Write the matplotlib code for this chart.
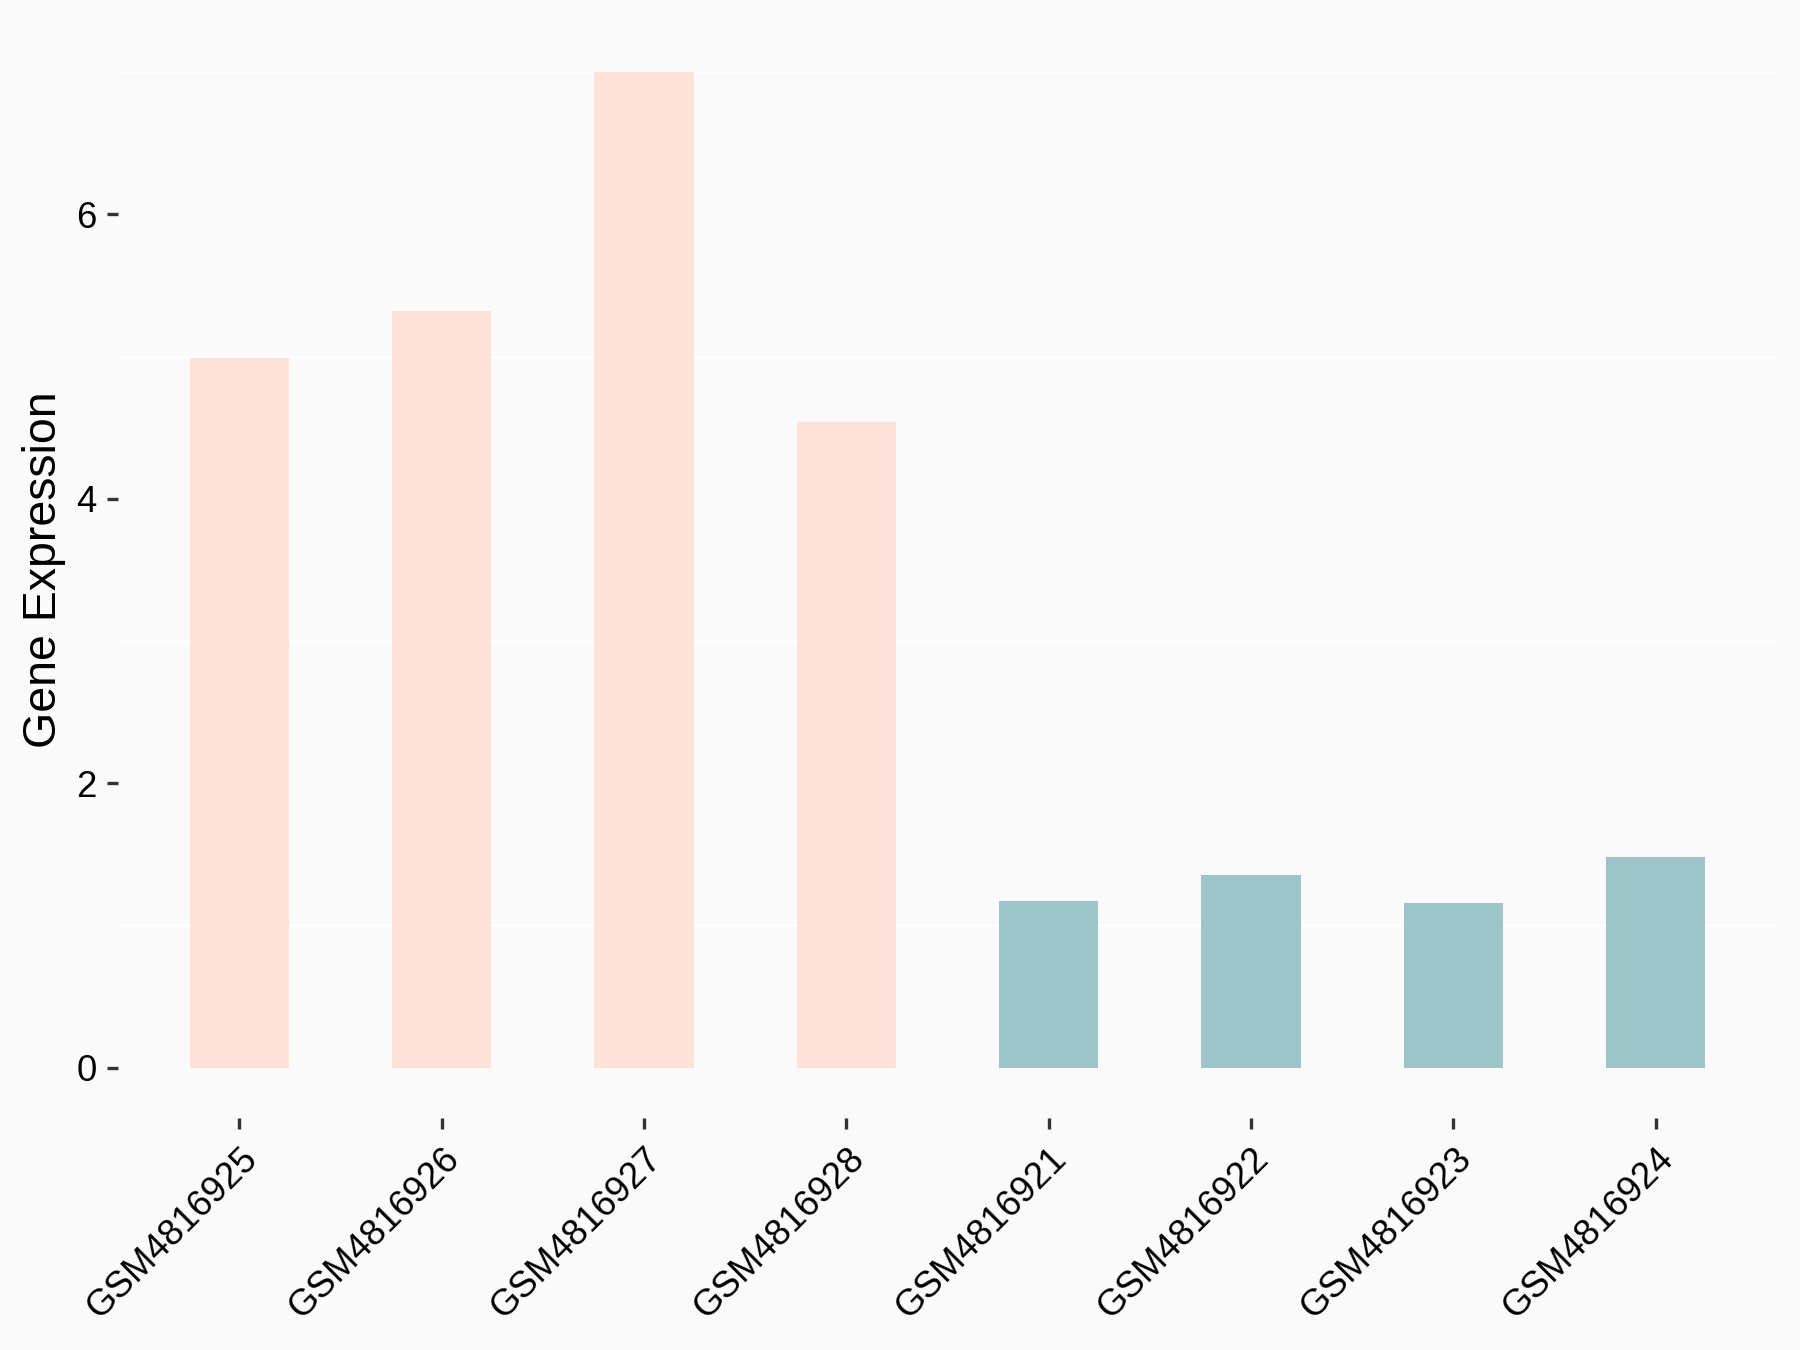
import matplotlib
matplotlib.use("Agg")
import matplotlib.pyplot as plt
import numpy as np

samples = ["GSM4816925", "GSM4816926", "GSM4816927", "GSM4816928",
           "GSM4816921", "GSM4816922", "GSM4816923", "GSM4816924"]
expression = [4.99, 5.32, 7.00, 4.54, 1.175, 1.357, 1.160, 1.484]
groups = ["A", "A", "A", "A", "B", "B", "B", "B"]
group_colors = {"A": "#FEE1D7", "B": "#9DC4C8"}
y_ticks = [0, 2, 4, 6]
y_minor_grid = [1, 3, 5, 7]

plt.rcParams["font.family"] = ["Liberation Sans", "DejaVu Sans"]

fig = plt.figure(figsize=(12, 9), dpi=150, facecolor="#FAFAFA")
ax = fig.add_axes([118 / 1800, 1 - 1117.5 / 1350, (1777 - 118) / 1800, (1117.5 - 22.3) / 1350])
ax.set_facecolor("#FAFAFA")

x = np.arange(len(samples))
ymax = max(expression)
ax.set_xlim(-0.6, len(samples) - 0.4)
ax.set_ylim(-0.05 * ymax, ymax * 1.05)

for g in y_minor_grid:
    ax.axhline(g, color="white", lw=1.2, zorder=0)

ax.bar(x, expression, width=0.49, color=[group_colors[g] for g in groups],
       linewidth=0, zorder=2)

ax.set_yticks(y_ticks)
ax.set_yticklabels([str(t) for t in y_ticks])
ax.set_xticks(x)
ax.set_xticklabels(samples, rotation=45, ha="right", va="top", rotation_mode="anchor")

for s in ax.spines.values():
    s.set_visible(False)

ax.tick_params(axis="both", which="major", length=5.5, width=1.6, color="#333333",
               labelsize=17.5, labelcolor="black")
ax.tick_params(axis="y", pad=4.8)
ax.tick_params(axis="x", pad=6)

ax.set_ylabel("Gene Expression", fontsize=22.3, labelpad=5, color="black")

fig.savefig("out.png", dpi=150, facecolor="#FAFAFA")
